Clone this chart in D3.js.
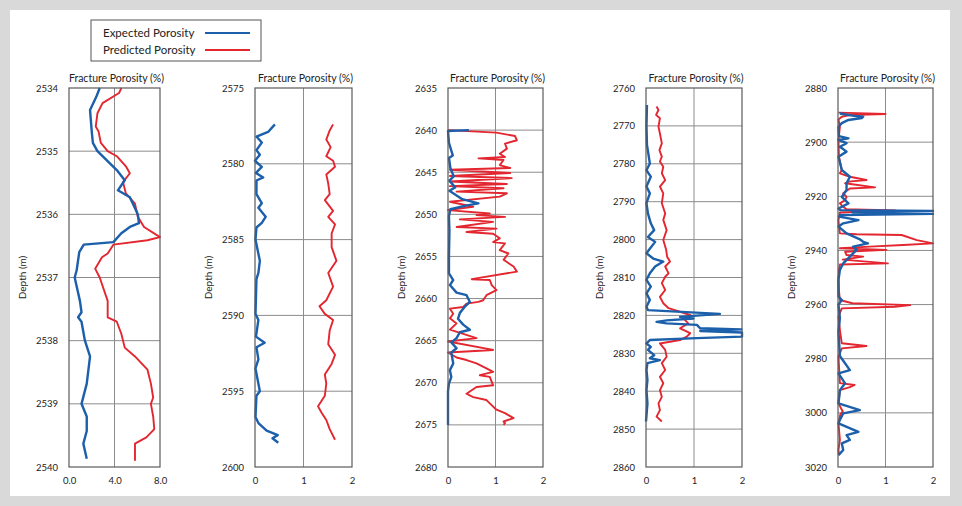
<!DOCTYPE html>
<html>
<head>
<meta charset="utf-8">
<script src="https://cdn.jsdelivr.net/npm/d3@7"></script>
<style>
  body { margin: 0; background: #fff; }
  svg { display: block; font-family: Lato, "Open Sans", sans-serif; }
</style>
</head>
<body>
<div id="chart"></div>
<script>
const width = 962, height = 506;

// depth ranges and tick labels for the five tracks
const depthDomains = [[2534, 2540], [2575, 2600], [2635, 2680], [2760, 2860], [2880, 3020]];
const depthTicks = [
  [2534, 2535, 2536, 2537, 2538, 2539, 2540],
  [2575, 2580, 2585, 2590, 2595, 2600],
  [2635, 2640, 2645, 2650, 2655, 2660, 2665, 2670, 2675, 2680],
  [2760, 2770, 2780, 2790, 2800, 2810, 2820, 2830, 2840, 2850, 2860],
  [2880, 2900, 2920, 2940, 2960, 2980, 3000, 3020]
];
const porosityMax = [8, 2, 2, 2, 2];
const porosityTicks = [[0, 4, 8], [0, 1, 2], [0, 1, 2], [0, 1, 2], [0, 1, 2]];
const seriesNames = ["Expected Porosity", "Predicted Porosity"];

// [depth, porosity]
const expected1 = [[2534.0,2.7],[2534.14,2.4],[2534.35,1.85],[2534.69,2.0],[2534.87,2.1],[2535.0,2.5],[2535.3,4.2],[2535.46,4.9],[2535.62,4.3],[2535.73,5.35],[2536.0,6.05],[2536.14,6.15],[2536.2,5.35],[2536.3,4.6],[2536.44,3.9],[2536.48,1.3],[2536.6,0.9],[2536.89,0.67],[2537.0,0.5],[2537.37,0.96],[2537.55,1.1],[2537.63,0.8],[2537.7,1.1],[2538.0,1.4],[2538.25,1.85],[2538.68,1.56],[2539.0,1.1],[2539.2,1.56],[2539.43,1.56],[2539.63,1.26],[2539.87,1.56]];
const predicted1 = [[2534.0,4.6],[2534.08,4.4],[2534.24,2.95],[2534.4,2.5],[2534.61,2.35],[2534.69,2.6],[2534.87,2.8],[2535.0,3.4],[2535.08,4.2],[2535.24,5.0],[2535.35,5.35],[2535.49,4.75],[2535.67,5.0],[2535.83,5.8],[2536.04,6.05],[2536.2,6.6],[2536.36,8.0],[2536.41,6.9],[2536.48,3.9],[2536.62,3.4],[2536.68,2.9],[2536.86,2.3],[2537.0,2.7],[2537.37,3.4],[2537.63,3.4],[2537.7,4.2],[2537.89,4.6],[2538.11,4.9],[2538.25,5.8],[2538.46,6.9],[2538.68,7.2],[2538.9,7.4],[2539.0,7.2],[2539.2,7.4],[2539.4,7.5],[2539.53,6.8],[2539.63,5.8],[2539.9,5.8]];

const expected2 = [[2577.4,0.41],[2577.9,0.27],[2578.2,0.03],[2578.6,0.14],[2579.1,0.03],[2579.4,0.1],[2579.8,0],[2580.2,0.14],[2580.6,0.02],[2580.9,0.17],[2581.1,0.03],[2582.0,0.03],[2582.6,0.14],[2582.9,0.07],[2583.5,0.22],[2583.9,0.14],[2584.2,0.03],[2585.0,0.01],[2586.4,0.1],[2587.2,0.07],[2587.6,0.03],[2589.9,0.01],[2590.3,0.07],[2591.4,0.02],[2591.8,0.2],[2592.1,0.03],[2592.9,0.07],[2593.5,0.01],[2595.0,0.1],[2595.3,0.03],[2596.7,0.01],[2597.1,0.07],[2597.6,0.24],[2597.9,0.47],[2598.1,0.36],[2598.4,0.48]];
const predicted2 = [[2577.4,1.61],[2577.8,1.54],[2578.4,1.47],[2578.9,1.56],[2579.5,1.47],[2579.8,1.61],[2580.2,1.65],[2580.7,1.47],[2581.3,1.51],[2582.0,1.54],[2582.4,1.44],[2583.1,1.61],[2583.5,1.51],[2584.0,1.65],[2584.6,1.58],[2585.5,1.58],[2586.4,1.68],[2587.2,1.51],[2588.1,1.61],[2589.0,1.47],[2589.4,1.33],[2589.9,1.44],[2590.3,1.61],[2591.0,1.54],[2591.9,1.51],[2592.6,1.65],[2593.2,1.58],[2593.9,1.44],[2594.5,1.47],[2595.3,1.44],[2596.0,1.3],[2596.4,1.37],[2596.9,1.47],[2597.5,1.54],[2598.2,1.65]];

const expected3 = [[2640.0,0.44],[2640.1,0.0],[2641.5,0.02],[2643.0,0.1],[2643.3,0.02],[2644.5,0.05],[2645.5,0.12],[2646.0,0.03],[2646.8,0.15],[2647.2,0.03],[2648.2,0.3],[2648.7,0.64],[2649.0,0.35],[2649.4,0.05],[2650.2,0.02],[2652.0,0.03],[2655.0,0.02],[2657.0,0.02],[2657.8,0.11],[2658.4,0.04],[2659.3,0.18],[2659.6,0.39],[2660.4,0.46],[2661.0,0.35],[2661.7,0.25],[2662.4,0.21],[2663.1,0.32],[2663.7,0.46],[2664.0,0.25],[2664.7,0.18],[2665.2,0.07],[2665.9,0.18],[2666.4,0.07],[2667.7,0.11],[2668.5,0.04],[2669.3,0.07],[2670.1,0.02],[2671.0,0.0],[2675.0,0.0]];
const predicted3 = [[2640.0,0.0],[2640.3,1.02],[2640.7,1.41],[2641.2,1.45],[2641.6,1.2],[2642.2,1.24],[2642.8,1.09],[2643.2,1.2],[2643.35,0.64],[2643.55,1.17],[2644.15,1.09],[2644.5,1.31],[2644.7,0.04],[2645.1,1.31],[2645.45,0.04],[2645.7,1.34],[2646.1,0.04],[2646.4,1.24],[2646.65,0.04],[2646.9,1.17],[2647.3,0.18],[2647.5,1.24],[2647.9,1.09],[2648.5,0.04],[2649.1,0.53],[2649.5,0.0],[2649.9,0.88],[2650.1,0.6],[2650.3,1.2],[2650.6,0.25],[2650.9,0.95],[2651.5,0.18],[2651.7,1.02],[2652.1,0.39],[2652.3,0.95],[2652.85,1.09],[2653.3,0.95],[2653.45,1.2],[2654.25,1.09],[2654.65,1.27],[2655.4,1.17],[2656.2,1.38],[2656.8,1.45],[2657.7,0.5],[2657.8,0.88],[2658.4,0.92],[2659.0,1.02],[2659.6,0.81],[2660.2,0.74],[2660.4,0.64],[2660.6,0.39],[2661.0,0.32],[2661.2,0.04],[2661.8,0.11],[2662.35,0.04],[2662.95,0.18],[2663.7,0.04],[2664.7,0.6],[2665.1,0.0],[2666.1,0.95],[2666.4,0.0],[2667.0,0.18],[2667.3,0.39],[2667.7,0.6],[2668.3,0.81],[2668.7,0.95],[2669.1,0.67],[2669.3,0.88],[2670.3,0.95],[2670.5,0.6],[2671.3,0.39],[2671.7,0.53],[2672.05,0.81],[2672.45,0.88],[2673.2,1.02],[2673.6,1.2],[2674.2,1.38],[2674.6,1.17],[2674.8,1.2],[2675.0,1.17]];

const expected4 = [[2764.5,0.02],[2770.0,0.01],[2775.0,0.02],[2779.9,0.08],[2781.7,0.01],[2783.4,0.1],[2786.0,0.01],[2787.8,0.08],[2790.4,0.01],[2793.1,0.04],[2795.7,0.1],[2797.5,0.17],[2799.3,0.04],[2800.6,0.19],[2802.4,0.08],[2803.6,0.01],[2805.0,0.15],[2805.8,0.36],[2807.1,0.19],[2808.9,0.08],[2810.6,0.01],[2812.4,0.1],[2814.2,0.01],[2815.9,0.08],[2817.7,0.01],[2818.6,0.04],[2819.6,1.54],[2820.4,0.71],[2820.8,0.99],[2821.3,0.43],[2821.7,0.22],[2822.1,0.43],[2822.5,1.06],[2823.4,1.13],[2823.7,1.99],[2824.1,1.13],[2824.5,2.0],[2825.6,2.0],[2826.0,1.06],[2826.5,0.08],[2827.4,0.01],[2828.3,0.1],[2829.1,0.04],[2830.5,0.17],[2831.3,0.08],[2831.8,0.29],[2832.6,0.03],[2834.4,0.01],[2837.0,0.03],[2839.7,0.01],[2843.2,0.03],[2848.0,0.0]];
const predicted4 = [[2764.9,0.22],[2765.8,0.26],[2767.1,0.21],[2768.0,0.29],[2770.2,0.26],[2772.0,0.29],[2774.6,0.33],[2776.4,0.28],[2778.1,0.33],[2779.4,0.29],[2780.8,0.36],[2782.5,0.33],[2784.3,0.4],[2786.0,0.29],[2787.8,0.36],[2790.4,0.33],[2793.1,0.4],[2794.8,0.36],[2797.5,0.43],[2800.1,0.36],[2802.7,0.42],[2804.5,0.44],[2805.8,0.5],[2807.1,0.4],[2808.9,0.47],[2809.8,0.4],[2811.5,0.33],[2813.3,0.4],[2815.1,0.29],[2816.8,0.36],[2818.1,0.47],[2819.9,0.92],[2820.8,0.78],[2822.1,0.88],[2823.4,0.71],[2824.7,0.92],[2825.6,0.85],[2826.5,0.71],[2827.4,0.29],[2829.1,0.4],[2830.9,0.43],[2832.6,0.33],[2834.4,0.4],[2836.2,0.29],[2837.9,0.36],[2839.7,0.29],[2841.5,0.33],[2843.2,0.26],[2845.0,0.29],[2846.7,0.22],[2848.0,0.33]];

const expected5 = [[2889.4,0.04],[2890.2,0.3],[2890.6,0.53],[2891.1,0.5],[2891.8,0.22],[2893.0,0.08],[2894.3,0.01],[2897.8,0.02],[2898.6,0.22],[2899.2,0.01],[2900.4,0.18],[2901.7,0.04],[2903.5,0.18],[2905.4,0.01],[2910.3,0.08],[2912.8,0.25],[2915.2,0.18],[2917.7,0.18],[2920.2,0.08],[2922.6,0.22],[2924.5,0.01],[2925.1,0.05],[2925.4,2.0],[2925.9,0.3],[2926.5,2.0],[2926.9,0.05],[2927.5,0.02],[2928.8,0.43],[2930.0,0.11],[2931.2,0.01],[2933.7,0.18],[2935.8,0.45],[2936.8,0.53],[2937.4,0.63],[2938.6,0.32],[2939.8,0.39],[2942.3,0.25],[2944.8,0.11],[2947.2,0.04],[2950.9,0.01],[2957.0,0.01],[2958.3,0.08],[2960.0,0.01],[2965.0,0.04],[2970.0,0.01],[2979.0,0.04],[2984.2,0.25],[2985.4,0.01],[2989.1,0.15],[2991.6,0.04],[2996.5,0.01],[2999.0,0.46],[3000.2,0.11],[3002.6,0.04],[3003.9,0.01],[3007.0,0.43],[3008.2,0.18],[3010.0,0.25],[3011.3,0.08],[3013.7,0.11],[3015.6,0.01]];
const predicted5 = [[2889.1,0.01],[2889.6,1.0],[2890.0,0.25],[2890.6,0.08],[2891.6,0.01],[2894.3,0.04],[2899.2,0.01],[2905.4,0.02],[2910.3,0.08],[2911.5,0.04],[2912.8,0.25],[2914.0,0.6],[2914.6,0.22],[2915.2,0.15],[2916.7,0.78],[2917.1,0.25],[2918.9,0.11],[2920.2,0.18],[2921.4,0.15],[2922.6,0.04],[2923.9,0.11],[2924.8,0.18],[2925.2,1.2],[2926.0,0.04],[2928.8,0.01],[2931.2,0.02],[2933.7,0.04],[2934.0,0.39],[2934.3,1.34],[2936.2,1.66],[2937.4,2.0],[2938.0,1.37],[2938.6,0.67],[2939.2,0.04],[2939.8,1.02],[2940.5,0.15],[2941.7,0.18],[2942.3,0.53],[2943.4,0.1],[2944.8,1.05],[2945.2,0.04],[2947.2,0.02],[2950.9,0.01],[2955.0,0.02],[2958.3,0.04],[2959.5,0.3],[2960.2,1.52],[2960.8,1.2],[2961.4,0.08],[2964.5,0.01],[2969.4,0.04],[2974.3,0.08],[2975.3,0.6],[2976.2,0.08],[2979.3,0.01],[2989.0,0.04],[2989.7,0.35],[2990.5,0.25],[2991.6,0.04],[2996.5,0.01],[2999.5,0.1],[3000.5,0.05],[3003.9,0.01],[3010.0,0.04],[3013.7,0.01],[3015.6,0.02]];

const expectedAll = [expected1, expected2, expected3, expected4, expected5];
const predictedAll = [predicted1, predicted2, predicted3, predicted4, predicted5];

const blue = "#1c5fab", red = "#e3262f";
const panelLeft = [69, 255, 448, 646, 838];
const panelWidth = [91, 97, 95, 96, 95];
const plotTop = 88, plotBottom = 467;

const svg = d3.select("#chart")
    .append("svg")
    .attr("width", width)
    .attr("height", height);

// gray outer frame
svg.append("rect").attr("width", width).attr("height", height).attr("fill", "#d9d9d9");
svg.append("rect").attr("x", 10).attr("y", 10).attr("width", 940).attr("height", 486).attr("fill", "#fff");

depthDomains.forEach((dom, i) => {
    const x = d3.scaleLinear().domain([0, porosityMax[i]]).range([panelLeft[i], panelLeft[i] + panelWidth[i]]);
    const y = d3.scaleLinear().domain(dom).range([plotTop, plotBottom]);
    const g = svg.append("g");

    // grid
    g.selectAll(".hgrid").data(depthTicks[i].slice(1, -1)).enter().append("line")
        .attr("x1", x.range()[0]).attr("x2", x.range()[1])
        .attr("y1", d => y(d)).attr("y2", d => y(d))
        .attr("stroke", "#8c8c8c").attr("stroke-width", 1);
    g.selectAll(".vgrid").data(porosityTicks[i].slice(1, -1)).enter().append("line")
        .attr("x1", d => x(d)).attr("x2", d => x(d))
        .attr("y1", plotTop).attr("y2", plotBottom)
        .attr("stroke", "#8c8c8c").attr("stroke-width", 1);

    // axes
    const yAxis = d3.axisLeft(y).tickValues(depthTicks[i]).tickSize(0).tickPadding(11).tickFormat(d3.format("d"));
    const xAxis = d3.axisBottom(x).tickValues(porosityTicks[i]).tickSize(0).tickPadding(10)
        .tickFormat(i === 0 ? d3.format(".1f") : d3.format("d"));
    const ya = g.append("g").attr("transform", `translate(${x.range()[0]},0)`).call(yAxis);
    const xa = g.append("g").attr("transform", `translate(0,${plotBottom})`).call(xAxis);
    [ya, xa].forEach(a => {
        a.select(".domain").remove();
        a.selectAll("text").attr("font-size", 9.5).attr("fill", "#222").attr("font-family", "Lato, sans-serif");
    });

    // series
    const line = d3.line().x(d => x(d[1])).y(d => y(d[0]));
    g.append("path").datum(predictedAll[i]).attr("d", line)
        .attr("fill", "none").attr("stroke", red).attr("stroke-width", 1.9).attr("stroke-linejoin", "round");
    g.append("path").datum(expectedAll[i]).attr("d", line)
        .attr("fill", "none").attr("stroke", blue).attr("stroke-width", 2.4).attr("stroke-linejoin", "round");

    // frame
    g.append("rect").attr("x", x.range()[0]).attr("y", plotTop)
        .attr("width", panelWidth[i]).attr("height", plotBottom - plotTop)
        .attr("fill", "none").attr("stroke", "#5a5a5a").attr("stroke-width", 1.2);

    // titles
    g.append("text").attr("x", x.range()[0] + panelWidth[i] / 2 + 2).attr("y", 82)
        .attr("text-anchor", "middle").attr("font-size", 10.5).attr("fill", "#222")
        .text("Fracture Porosity (%)");
    g.append("text")
        .attr("transform", `translate(${x.range()[0] - 43},${(plotTop + plotBottom) / 2}) rotate(-90)`)
        .attr("text-anchor", "middle").attr("font-size", 10).attr("fill", "#222")
        .text("Depth (m)");
});

// legend
const legend = svg.append("g");
legend.append("rect").attr("x", 91).attr("y", 20).attr("width", 170).attr("height", 41)
    .attr("fill", "#fff").attr("stroke", "#555").attr("stroke-width", 1);
seriesNames.forEach((name, k) => {
    const yy = 33 + k * 17;
    legend.append("text").attr("x", 103).attr("y", yy + 4).attr("font-size", 11.5).attr("fill", "#222").text(name);
    legend.append("line").attr("x1", 205).attr("x2", 250).attr("y1", yy).attr("y2", yy)
        .attr("stroke", k === 0 ? blue : red).attr("stroke-width", 2);
});
</script>
</body>
</html>
